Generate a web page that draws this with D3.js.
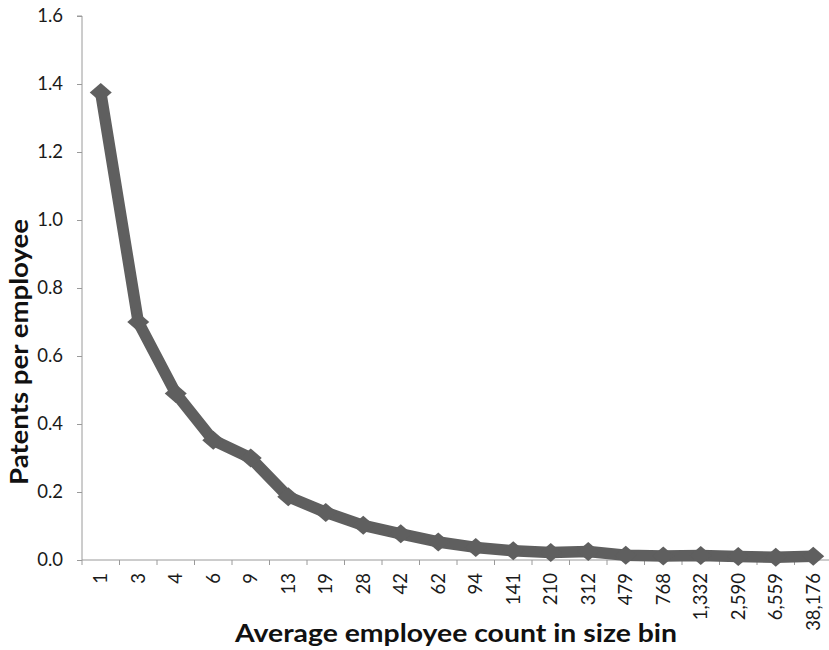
<!DOCTYPE html>
<html><head><meta charset="utf-8">
<script src="https://cdn.jsdelivr.net/npm/d3@7"></script>
<style>body{margin:0;background:#fff}svg{display:block}</style>
</head><body>
<svg id="c" width="829" height="650"></svg>
<script>
const categories = ["1","3","4","6","9","13","19","28","42","62","94","141","210","312","479","768","1,332","2,590","6,559","38,176"];
const values = [1.375,0.70,0.49,0.352,0.30,0.186,0.14,0.102,0.077,0.053,0.037,0.027,0.022,0.025,0.014,0.012,0.013,0.010,0.008,0.011];
const yTicks = [0,0.2,0.4,0.6,0.8,1.0,1.2,1.4,1.6];

(function(){
const svg = d3.select("#c");
const pL = 82, pR = 832, pT = 16, pB = 560;
const x = d3.scaleBand().domain(categories).range([pL, pR]);
const y = d3.scaleLinear().domain([0,1.6]).range([pB, pT]);
const font = "Lato, 'Open Sans', sans-serif";
const axisCol = "#9a9a9a";
const lineCol = "#5f5f5f";

// y axis
const ya = svg.append("g").attr("transform",`translate(${pL},0)`)
  .call(d3.axisLeft(y).tickValues(yTicks).tickFormat(d3.format(".1f")).tickSize(5).tickPadding(14));
ya.select(".domain").attr("stroke",axisCol).attr("d",`M-5,${pT}H0V${pB}`);
ya.selectAll(".tick line").attr("stroke",axisCol);
ya.selectAll("text").attr("font-family",font).attr("font-size",18.5).attr("fill","#1a1a1a");

// x axis with ticks at band boundaries
const xa = svg.append("g").attr("transform",`translate(0,${pB})`);
xa.append("line").attr("x1",pL).attr("x2",pR).attr("stroke",axisCol);
const bounds = categories.map(c => x(c)).concat([x(categories[categories.length-1]) + x.bandwidth()]);
xa.selectAll("line.tk").data(bounds).enter().append("line").attr("class","tk")
  .attr("x1",d=>d).attr("x2",d=>d).attr("y1",0).attr("y2",5).attr("stroke",axisCol);
xa.selectAll("text").data(categories).enter().append("text")
  .attr("transform",d=>`translate(${x(d)+x.bandwidth()/2},13) rotate(-90)`)
  .attr("dy","0.36em")
  .attr("text-anchor","end").attr("font-family",font).attr("font-size",18.5).attr("fill","#1a1a1a")
  .text(d=>d);

// line
const cx = (d,i)=>x(categories[i])+x.bandwidth()/2;
const line = d3.line().x(cx).y(d=>y(d));
svg.append("path").datum(values).attr("d",line).attr("fill","none")
  .attr("stroke",lineCol).attr("stroke-width",11.5).attr("stroke-linejoin","round");
svg.selectAll("path.m").data(values).enter().append("path").attr("class","m")
  .attr("d","M0,-9.5L11,0L0,9.5L-11,0Z")
  .attr("transform",(d,i)=>`translate(${cx(d,i)},${y(d)})`)
  .attr("fill",lineCol);

// titles
svg.append("text").attr("transform","translate(28,352) rotate(-90)").attr("text-anchor","middle")
  .attr("font-family",font).attr("font-weight","bold").attr("font-size",24).attr("fill","#111")
  .attr("textLength",266).attr("lengthAdjust","spacingAndGlyphs")
  .text("Patents per employee");
svg.append("text").attr("x",456).attr("y",642).attr("text-anchor","middle")
  .attr("font-family",font).attr("font-weight","bold").attr("font-size",24).attr("fill","#111")
  .attr("textLength",442).attr("lengthAdjust","spacingAndGlyphs")
  .text("Average employee count in size bin");
})();
</script>
</body></html>
